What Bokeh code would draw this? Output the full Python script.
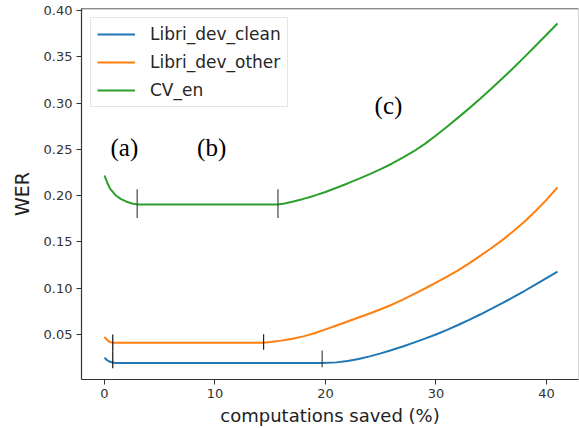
from bokeh.plotting import figure
from bokeh.models import Range1d, Legend, LegendItem, Span, FixedTicker, NumeralTickFormatter
from bokeh.core.properties import value
from bokeh.embed import file_html
from bokeh.resources import INLINE

# ---- data ----
clean_x = [0, 0.25, 0.5, 0.75, 1.0, 5, 10, 15, 19.7, 21, 22, 23, 24, 25, 26, 27, 28, 29,
           30, 31, 32, 33, 34, 35, 36, 37, 38, 39, 40, 41]
clean_y = [0.0250, 0.0222, 0.0205, 0.0197, 0.0193, 0.0193, 0.0193, 0.0193, 0.0193, 0.0199,
           0.0214, 0.0236, 0.0264, 0.0296, 0.0332, 0.0370, 0.0412, 0.0455, 0.0500, 0.0550,
           0.0603, 0.0658, 0.0716, 0.0776, 0.0838, 0.0903, 0.0970, 0.1040, 0.1110, 0.1180]

other_x = [0, 0.2, 0.4, 0.6, 0.8, 5, 10, 14.4, 15, 16, 17, 18, 19, 20, 21, 22, 23, 24, 25,
           26, 27, 28, 29, 30, 31, 32, 33, 34, 35, 36, 37, 38, 39, 40, 41]
other_y = [0.0475, 0.0445, 0.0425, 0.0415, 0.0410, 0.0410, 0.0410, 0.0410, 0.0418, 0.0434,
           0.0455, 0.0480, 0.0513, 0.0555, 0.0598, 0.0641, 0.0684, 0.0727, 0.0773, 0.0822,
           0.0877, 0.0937, 0.0997, 0.1060, 0.1125, 0.1193, 0.1268, 0.1350, 0.1432, 0.1520,
           0.1615, 0.1718, 0.1832, 0.1955, 0.2090]

cv_x = [0, 0.25, 0.5, 1.0, 1.5, 2.0, 2.5, 3.0, 8, 15.7, 16.3, 17, 18, 19, 20, 21, 22, 23,
        24, 25, 26, 27, 28, 29, 30, 31, 32, 33, 34, 35, 36, 37, 38, 39, 40, 41]
cv_y = [0.2218, 0.2140, 0.2077, 0.2005, 0.1963, 0.1935, 0.1915, 0.1905, 0.1905, 0.1905,
        0.1915, 0.1935, 0.1965, 0.2000, 0.2040, 0.2085, 0.2132, 0.2182, 0.2233, 0.2287,
        0.2345, 0.2410, 0.2480, 0.2560, 0.2650, 0.2745, 0.2843, 0.2943, 0.3047, 0.3155,
        0.3265, 0.3380, 0.3497, 0.3617, 0.3738, 0.3860]

series_names = ["Libri_dev_clean", "Libri_dev_other", "CV_en"]

# region boundary markers
mark_x = [2.96, 15.7, 0.75, 0.75, 14.4, 19.7]
mark_y0 = [0.176, 0.176, 0.032, 0.0136, 0.0335, 0.0147]
mark_y1 = [0.207, 0.207, 0.050, 0.032, 0.0504, 0.0327]
mark_colors = ["#444444", "#444444", "#111111", "#111111", "#222222", "#444444"]

ann_text = ["(a)", "(b)", "(c)"]
ann_x = [1.8, 9.7, 25.7]
ann_y = [0.252, 0.252, 0.297]

x_ticks = [0, 10, 20, 30, 40]
y_ticks = [0.05, 0.10, 0.15, 0.20, 0.25, 0.30, 0.35, 0.40]

# ---- figure ----
p = figure(width=579, height=428, output_backend="svg", toolbar_location=None,
           x_range=Range1d(-2.08, 42.9), y_range=Range1d(0.0014, 0.4022),
           min_border_left=81, min_border_right=1, min_border_top=8, min_border_bottom=49)
p.xgrid.visible = False
p.ygrid.visible = False
p.outline_line_color = "#d4d4d4"
p.background_fill_color = "white"
p.border_fill_color = "white"

FONT = "DejaVu Sans"
for ax in (p.xaxis[0], p.yaxis[0]):
    ax.major_label_text_font = FONT
    ax.major_label_text_font_size = "13px"
    ax.major_label_text_color = "#333333"
    ax.major_tick_out = 5
    ax.major_tick_in = 0
    ax.minor_tick_out = 0
    ax.minor_tick_in = 0
    ax.major_tick_line_color = "#333333"
    ax.axis_line_color = "#333333"
    ax.axis_line_width = 1.2
    ax.axis_label_text_font = FONT
    ax.axis_label_text_font_style = "normal"
    ax.axis_label_text_color = "#222222"
    ax.major_label_standoff = 4

p.xaxis[0].ticker = FixedTicker(ticks=x_ticks)
p.yaxis[0].ticker = FixedTicker(ticks=y_ticks)
p.yaxis[0].formatter = NumeralTickFormatter(format="0.00")
p.xaxis[0].axis_label = "computations saved (%)"
p.xaxis[0].axis_label_text_font_size = "18px"
p.xaxis[0].axis_label_standoff = 4
p.yaxis[0].axis_label = "WER"
p.yaxis[0].axis_label_text_font_size = "19px"
p.yaxis[0].axis_label_standoff = 8

p.add_layout(Span(location=0.4022, dimension="width", line_color="#444444", line_width=1.5))

colors = ["#1f77b4", "#ff7f0e", "#2ca02c"]
r1 = p.line(clean_x, clean_y, line_color=colors[0], line_width=2)
r2 = p.line(other_x, other_y, line_color=colors[1], line_width=2)
r3 = p.line(cv_x, cv_y, line_color=colors[2], line_width=2)

p.segment(x0=mark_x, y0=mark_y0, x1=mark_x, y1=mark_y1, line_color=mark_colors, line_width=1.2)

p.text(x=ann_x, y=ann_y, text=ann_text, text_font=value("Liberation Serif"),
       text_font_size="25px", text_align="center", text_baseline="middle",
       text_color="#000000")

legend = Legend(items=[LegendItem(label=n, renderers=[r]) for n, r in zip(series_names, [r1, r2, r3])],
                location="top_left", margin=9, padding=6, spacing=8,
                glyph_width=38, glyph_height=20, label_height=20, label_standoff=15,
                label_text_font=FONT, label_text_font_size="17px", label_text_color="#262626",
                border_line_color="#cccccc", border_line_width=1, background_fill_alpha=1.0)
p.add_layout(legend)

open("out.html", "w").write(file_html(p, INLINE))
